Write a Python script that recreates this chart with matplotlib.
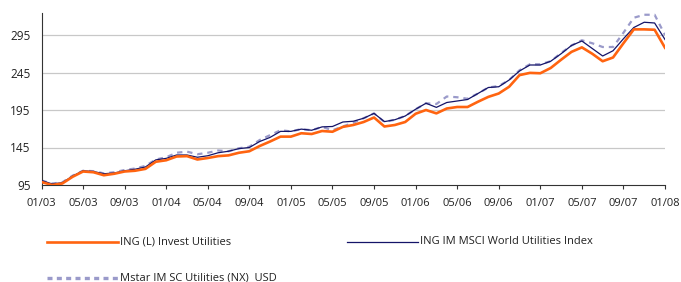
import matplotlib
matplotlib.use("Agg")
import matplotlib.pyplot as plt
from matplotlib.lines import Line2D

plt.rcParams['font.family'] = ['Open Sans', 'DejaVu Sans']

tick_labels = ["01/03", "05/03", "09/03", "01/04", "05/04", "09/04", "01/05", "05/05",
               "09/05", "01/06", "05/06", "09/06", "01/07", "05/07", "09/07", "01/08"]
y_ticks = [95, 145, 195, 245, 295]

fund = [99, 95, 97, 106, 113, 112, 108, 110, 113, 114, 116.5, 126, 128, 133, 133.5, 129,
        131, 133.5, 134.5, 138, 140, 147, 153, 159.5, 159.5, 164, 163, 167, 166, 172.5,
        175, 179, 185, 173, 175, 179, 190, 195, 190.5, 197, 199, 199, 206, 212.5, 217,
        226, 241.5, 244.5, 244, 251, 262, 272.5, 278.5, 270, 260, 265, 284, 302.5, 302.5,
        302, 278]
index = [101, 96.5, 98, 107, 114, 113, 110, 111, 114, 116, 119, 128.5, 130.5, 135, 135, 132,
         134, 138, 140, 143.5, 145, 153, 158.5, 166.5, 166.5, 169.5, 168, 172.5, 173, 179,
         180, 184, 190.5, 179.5, 182, 187, 196, 204, 198.5, 205, 207, 209, 217, 225, 226,
         235, 247, 255, 255, 260, 270, 281, 287, 277, 267, 274, 290, 305, 312, 311, 289]
peer = [101, 97, 98.5, 107.5, 114, 113.5, 110.5, 112, 115, 117, 120.5, 129, 132, 138, 139.5,
        136, 138, 141, 140, 144, 146, 155, 161.5, 168, 166.5, 169.5, 168, 172.5, 168, 173,
        178, 184, 190.5, 179, 182, 187, 196, 204, 203, 213, 212, 210, 217, 225, 227, 235,
        248, 256, 256, 260, 271, 281, 288, 284, 279, 279, 298, 318, 322, 322, 295]

names = ["ING (L) Invest Utilities", "ING IM MSCI World Utilities Index",
         "Mstar IM SC Utilities (NX)  USD"]

C_FUND = "#FF6410"
C_INDEX = "#141468"
C_PEER = "#9A9ACA"
C_TEXT = "#222222"

fig = plt.figure(figsize=(6.81, 2.82), dpi=100)
W, H = 681, 282
ax = fig.add_axes([41.5 / W, 1 - 185 / H, (665 - 41.5) / W, (185 - 12.5) / H])

months = list(range(len(fund)))
ax.plot(months, peer, color=C_PEER, lw=1.6, dashes=(2.4, 2.2), zorder=2)
ax.plot(months, index, color=C_INDEX, lw=0.9, zorder=3)
ax.plot(months, fund, color=C_FUND, lw=1.9, zorder=4)

ax.set_xlim(0, len(fund) - 1)
ax.set_ylim(95, 325)
ax.set_xticks(list(range(0, len(fund), 4)))
ax.set_xticklabels(tick_labels)
ax.set_yticks(y_ticks)
ax.set_yticklabels([str(v) for v in y_ticks])
ax.tick_params(axis='x', length=3, width=0.8, color="#333333", pad=6, labelsize=8, labelcolor=C_TEXT)
ax.tick_params(axis='y', length=0, pad=8, labelsize=8.5, labelcolor=C_TEXT)
for v in y_ticks[1:]:
    ax.axhline(v, color="#c8c8c8", lw=0.9, zorder=1)
for s in ['top', 'right']:
    ax.spines[s].set_visible(False)
for s in ['left', 'bottom']:
    ax.spines[s].set_color("#333333")
    ax.spines[s].set_linewidth(0.8)

# legend
def leg(x0, x1, y, text, **kw):
    fig.add_artist(Line2D([x0 / W, x1 / W], [1 - y / H, 1 - y / H], transform=fig.transFigure, **kw))
    fig.text((x1 + 1.5) / W, 1 - y / H, text, fontsize=8, va='center', ha='left', color=C_TEXT)

leg(47, 118, 241.5, names[0], color=C_FUND, lw=1.9)
leg(347, 418, 241.5, names[1], color=C_INDEX, lw=0.9)
leg(47, 118, 277.5, names[2], color=C_PEER, lw=2.4, dashes=(1.5, 1.3))

fig.savefig("out.png", dpi=100)
